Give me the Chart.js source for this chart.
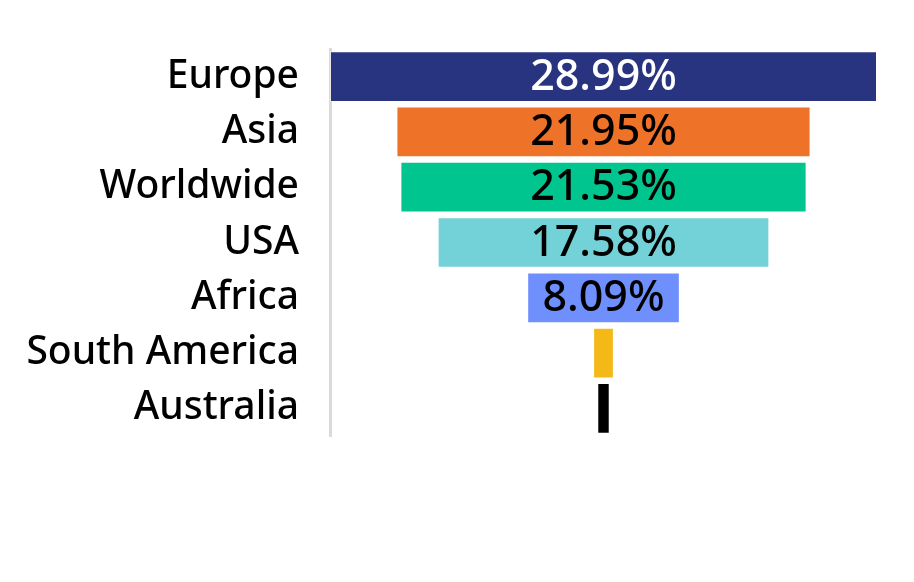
<!DOCTYPE html>
<html>
<head>
<meta charset="utf-8">
<script src="https://cdn.jsdelivr.net/npm/chart.js@4/dist/chart.umd.min.js"></script>
<style>
    html, body { margin: 0; padding: 0; background: #fff; }
    #wrap { width: 914px; height: 582px; }
</style>
</head>
<body>
<div id="wrap"><canvas id="funnel"></canvas></div>
<script>
const regions = ['Europe', 'Asia', 'Worldwide', 'USA', 'Africa', 'South America', 'Australia'];
const shares = [28.99, 21.95, 21.53, 17.58, 8.09, 1.10, 0.66];
const barColors = ['#283480', '#ee7328', '#00c58f', '#72d2d8', '#6f8ffd', '#f4b917', '#000000'];
const labelColors = ['#ffffff', '#000000', '#000000', '#000000', '#000000', null, null];

const FONT = '"Noto Sans", "Open Sans", sans-serif';
const half = Math.max(...shares) / 2;

// draws the % text in the middle of each wide enough bar
const barLabels = {
    id: 'barLabels',
    afterDatasetsDraw(chart) {
        const { ctx } = chart;
        const meta = chart.getDatasetMeta(0);
        ctx.save();
        ctx.font = '500 43px ' + FONT;
        ctx.textAlign = 'center';
        ctx.textBaseline = 'middle';
        meta.data.forEach((bar, i) => {
            if (!labelColors[i]) return;
            ctx.fillStyle = labelColors[i];
            ctx.fillText(shares[i].toFixed(2) + '%', (bar.x + bar.base) / 2, bar.y + 1);
        });
        ctx.restore();
    }
};

new Chart(document.getElementById('funnel'), {
    type: 'bar',
    data: {
        labels: regions,
        datasets: [{
            // centred floating bars make the funnel
            data: shares.map(v => [-v / 2, v / 2]),
            backgroundColor: barColors,
            borderColor: 'rgba(255,255,255,0.35)',
            borderWidth: 1,
            borderSkipped: false,
            barPercentage: 0.917,
            categoryPercentage: 1
        }]
    },
    options: {
        indexAxis: 'y',
        responsive: true,
        maintainAspectRatio: false,
        animation: false,
        layout: { padding: { top: 49, bottom: 146, right: 37, left: 0 } },
        plugins: {
            legend: { display: false },
            tooltip: { enabled: false }
        },
        scales: {
            x: { display: false, min: -half, max: half },
            y: {
                afterFit: (scale) => {
                    scale.width = 330;
                    scale.paddingTop = 0;
                    scale.paddingBottom = 0;
                },
                grid: { display: false, drawTicks: false },
                border: { display: true, color: '#dadada', width: 3 },
                ticks: { color: '#000', padding: 31, font: { family: FONT, size: 39, weight: 500 } }
            }
        }
    },
    plugins: [barLabels]
});
</script>
</body>
</html>
